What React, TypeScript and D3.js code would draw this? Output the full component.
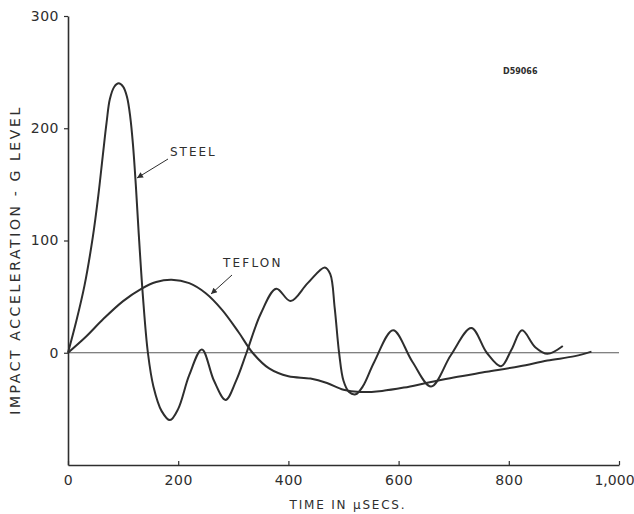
import { useEffect, useRef } from "react";
import * as d3 from "d3";

const steelTime = [0, 15, 30, 45, 55, 63, 70, 76, 84, 92, 100, 107, 113, 118, 123, 128, 136, 145, 155, 170, 185, 200, 220, 243, 265, 286, 305, 324, 350, 378, 404, 435, 466, 476, 484, 492, 500, 510, 522, 535, 556, 590, 625, 659, 695, 732, 760, 786, 805, 824, 848, 870, 898];
const steelValue = [0, 28, 60, 103, 140, 175, 205, 226, 237, 240, 237, 228, 210, 185, 150, 109, 50, 0, -30, -52, -60, -50, -20, 3, -25, -42, -25, 0, 35, 57, 46, 62, 76, 70, 40, 0, -25, -35, -37, -30, -8, 20, -8, -30, -2, 22, 0, -12, 3, 20, 5, -1, 6];

const teflonTime = [0, 32, 64, 100, 133, 160, 188, 220, 250, 280, 310, 335, 365, 400, 440, 470, 500, 530, 570, 610, 650, 700, 760, 820, 870, 920, 950];
const teflonValue = [0, 14, 30, 46, 57, 63, 65, 62, 53, 38, 18, 0, -14, -21, -23, -27, -33, -35, -34, -31, -27, -22, -17, -12, -7, -3, 1];

const xTicks = [0, 200, 400, 600, 800, 1000];
const xTickLabels = ["0", "200", "400", "600", "800", "1,000"];
const yTicks = [0, 100, 200, 300];

export default function App() {
  const ref = useRef<SVGSVGElement>(null);

  useEffect(() => {
    const svg = d3.select(ref.current);
    svg.selectAll("*").remove();

    const ink = "#2e2e2e";
    const font = "'DejaVu Sans', sans-serif";
    const x = d3.scaleLinear().domain([0, 1000]).range([68, 619]);
    const y = d3.scaleLinear().domain([-100, 300]).range([465, 16]);

    // axes
    const xAxis = svg
      .append("g")
      .attr("transform", `translate(0,${y(-100)})`)
      .call(
        d3
          .axisBottom(x)
          .tickValues(xTicks)
          .tickSizeInner(-4)
          .tickSizeOuter(0)
          .tickPadding(10)
          .tickFormat((d, i) => xTickLabels[i])
      );
    xAxis.select(".domain").attr("stroke", ink).attr("stroke-width", 1.6);
    xAxis.selectAll("line").attr("stroke", ink).attr("stroke-width", 1.2);
    xAxis
      .selectAll("text")
      .attr("fill", ink)
      .attr("font-family", font)
      .attr("font-size", 14)
      .attr("letter-spacing", 0.5);
    // last label sits a little inside the frame
    xAxis
      .selectAll("text")
      .filter((d) => d === 1000)
      .attr("dx", -5)
      .attr("letter-spacing", 0);

    const yAxis = svg
      .append("g")
      .attr("transform", `translate(${x(0)},0)`)
      .call(
        d3
          .axisLeft(y)
          .tickValues(yTicks)
          .tickSizeInner(4)
          .tickSizeOuter(0)
          .tickPadding(5)
      );
    yAxis.select(".domain").attr("stroke", ink).attr("stroke-width", 1.6);
    yAxis.selectAll("line").attr("stroke", ink).attr("stroke-width", 1.2);
    yAxis
      .selectAll("text")
      .attr("fill", ink)
      .attr("font-family", font)
      .attr("font-size", 14)
      .attr("letter-spacing", 0.5);

    // zero line
    svg
      .append("line")
      .attr("x1", x(0))
      .attr("x2", x(1000))
      .attr("y1", y(0))
      .attr("y2", y(0))
      .attr("stroke", ink)
      .attr("stroke-width", 0.8);

    const line = d3
      .line<[number, number]>()
      .x((d) => x(d[0]))
      .y((d) => y(d[1]))
      .curve(d3.curveCatmullRom.alpha(0.5));

    const steel = steelTime.map((t, i) => [t, steelValue[i]] as [number, number]);
    const teflon = teflonTime.map((t, i) => [t, teflonValue[i]] as [number, number]);

    [steel, teflon].forEach((data) => {
      svg
        .append("path")
        .attr("d", line(data))
        .attr("fill", "none")
        .attr("stroke", ink)
        .attr("stroke-width", 2)
        .attr("stroke-linejoin", "round");
    });

    // labels with arrows
    svg
      .append("defs")
      .append("marker")
      .attr("id", "arrow")
      .attr("viewBox", "0 0 10 10")
      .attr("refX", 10)
      .attr("refY", 5)
      .attr("markerWidth", 9)
      .attr("markerHeight", 6)
      .attr("markerUnits", "userSpaceOnUse")
      .attr("orient", "auto")
      .append("path")
      .attr("d", "M0,0 L10,5 L0,10 z")
      .attr("fill", ink);

    const labels = [
      { text: "STEEL", tx: 170, ty: 156, ls: 2, from: [168, 159], to: [137, 178] },
      { text: "TEFLON", tx: 223, ty: 267, ls: 2.2, from: [232, 275], to: [211, 294] },
    ];
    labels.forEach((l) => {
      svg
        .append("text")
        .attr("x", l.tx)
        .attr("y", l.ty)
        .attr("fill", ink)
        .attr("font-family", font)
        .attr("font-size", 12)
        .attr("letter-spacing", l.ls)
        .text(l.text);
      svg
        .append("line")
        .attr("x1", l.from[0])
        .attr("y1", l.from[1])
        .attr("x2", l.to[0])
        .attr("y2", l.to[1])
        .attr("stroke", ink)
        .attr("stroke-width", 1)
        .attr("marker-end", "url(#arrow)");
    });

    svg
      .append("text")
      .attr("x", 503)
      .attr("y", 74)
      .attr("fill", ink)
      .attr("font-family", font)
      .attr("font-size", 8)
      .attr("font-weight", "bold")
      .text("D59066");

    // axis titles
    svg
      .append("text")
      .attr("x", 348)
      .attr("y", 509)
      .attr("text-anchor", "middle")
      .attr("fill", ink)
      .attr("font-family", font)
      .attr("font-size", 12)
      .attr("letter-spacing", 1.8)
      .text("TIME IN µSECS.");

    svg
      .append("text")
      .attr("transform", `translate(20,260) rotate(-90)`)
      .attr("text-anchor", "middle")
      .attr("fill", ink)
      .attr("font-family", font)
      .attr("font-size", 14)
      .attr("letter-spacing", 2.6)
      .text("IMPACT ACCELERATION - G LEVEL");
  }, []);

  return (
    <svg
      ref={ref}
      width={634}
      height={514}
      style={{ position: "absolute", left: 0, top: 0, background: "#fff" }}
    />
  );
}
